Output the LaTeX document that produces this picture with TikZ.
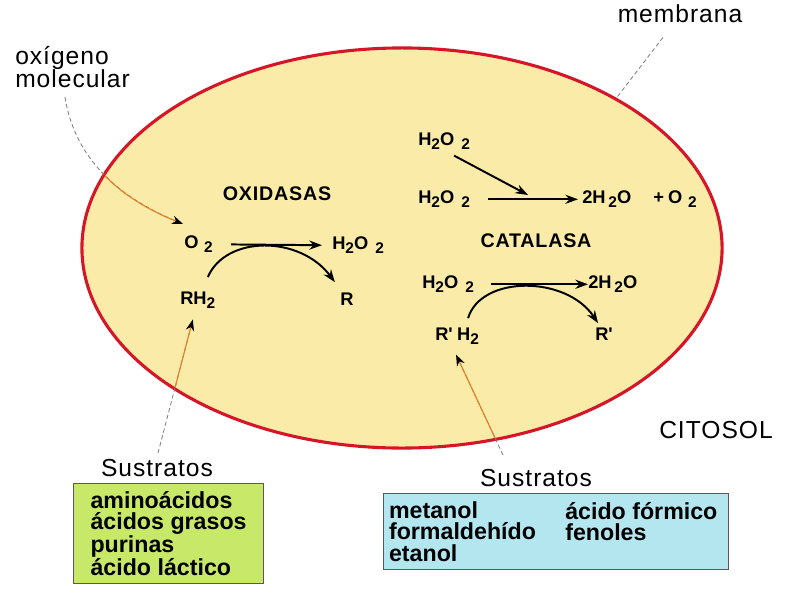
\documentclass[tikz,border=0pt]{standalone}
\usepackage{fontspec}
\setmainfont{Liberation Sans}
\usetikzlibrary{arrows.meta,calc,shapes.geometric}

\definecolor{cellfill}{RGB}{250,236,168}
\definecolor{cellred}{RGB}{214,22,40}
\definecolor{leadorange}{RGB}{228,128,40}
\definecolor{limebox}{RGB}{200,232,105}
\definecolor{cyanbox}{RGB}{180,230,240}

\newcommand{\subn}[1]{\raisebox{-0.45ex}{\fontsize{11}{11}\selectfont #1}}

\tikzset{
  tag/.style={font=\fontsize{17.5}{16.5}\selectfont\addfontfeature{LetterSpace=4}, inner sep=0pt},
  enzyme/.style={font=\bfseries\fontsize{14}{14}\selectfont\addfontfeature{LetterSpace=4}, inner sep=0pt},
  formula/.style={font=\bfseries\fontsize{13}{13}\selectfont, inner sep=0pt, anchor=base west},
  rxn/.style={line width=1.4pt, -{Stealth[length=9pt,width=6.5pt]}},
  leader/.style={gray, densely dashed, line width=0.6pt},
  inside/.style={leadorange, line width=0.8pt},
  boxtext/.style={font=\bfseries\fontsize{16.5}{15.3}\selectfont, align=left, inner sep=0pt},
  listbox/.style={boxtext, draw=black!65, line width=0.8pt, anchor=north west}
}

\begin{document}
\begin{tikzpicture}[x=0.025cm,y=-0.025cm]
\useasboundingbox (0,0) rectangle (800,598);

% la celula
\node[ellipse, draw=cellred, line width=2.2pt, fill=cellfill, minimum width=16cm, minimum height=10cm, inner sep=0pt] (cell) at (402,248) {};

% rotulos
\node[tag, align=left, anchor=north west] (oxi) at (15,46) {oxígeno\\molecular};
\node[tag] (memb) at (680,14) {membrana};
\node[tag] (cito) at (716,430) {CITOSOL};
\node[tag] (sust1) at (157,468) {Sustratos};
\node[tag] (sust2) at (536,478) {Sustratos};

% enzimas
\node[enzyme] (oxid) at (277,194) {OXIDASAS};
\node[enzyme] (cata) at (536,241) {CATALASA};

% oxidasas
\node[formula] (o2) at (184,248) {O\hspace{4pt}\subn{2}};
\node[formula] (hoo1) at (332,249) {H\subn{2}O\hspace{5pt}\subn{2}};
\node[formula] (rh2) at (180,304) {RH\subn{2}};
\node[formula] (r1) at (340,305) {R};
\draw[rxn, shorten <=0.45cm, shorten >=0.25cm] (o2.mid east) -- (hoo1.mid west);
\draw[rxn] ($(rh2.north)+(10,-14)$) .. controls +(18,-42) and +(-35,-47) .. ($(r1.north)+(-12,-10)$);

% catalasa
\node[formula] (hoo2) at (418,145) {H\subn{2}O\hspace{5pt}\subn{2}};
\node[formula] (hoo3) at (418,203) {H\subn{2}O\hspace{5pt}\subn{2}};
\node[formula] (wat1) at (582,203) {2H\hspace{2pt}\subn{2}O};
\node[formula] (oxy) at (653,203) {+\hspace{3pt}O\hspace{4pt}\subn{2}};
\coordinate (meet) at (528,195);
\draw[rxn, shorten <=0.45cm, shorten >=0.1cm] (hoo3.mid east) -- (wat1.mid west);
\draw[rxn] ($(hoo2.south)+(10,6)$) -- (meet);

\node[formula] (hoo4) at (422,288) {H\subn{2}O\hspace{5pt}\subn{2}};
\node[formula] (wat2) at (588,288) {2H\hspace{2pt}\subn{2}O};
\node[formula] (rph2) at (435,340) {R\textquotesingle\hspace{3pt}H\subn{2}};
\node[formula] (rp) at (595,340) {R\textquotesingle};
\draw[rxn, shorten <=0.42cm] (hoo4.mid east) -- (wat2.mid west);
\draw[rxn] ($(rph2.north)+(11,-9)$) .. controls +(13,-43) and +(-32,-48) .. ($(rp.north)+(-6,-4)$);

% lineas guia
\draw[leader] ($(memb.south)+(-17,14)$) -- (cell.35);
\draw[leader] ($(oxi.south west)+(50,9)$) .. controls +(12,75) and +(-45,-18) .. ($(o2.north west)+(-1,-11)$);
\draw[leader] ($(sust1.north)+(1,-6)$) -- ($(rh2.south)+(-5,11)$);
\draw[leader] ($(sust2.north)+(-33,-14)$) -- ($(rph2.south)+(-1,10)$);
\begin{scope}
  \clip (402,248) ellipse [x radius=7.96cm, y radius=4.96cm];
  \draw[inside, -{Stealth[length=8pt,width=6pt,color=black]}] ($(oxi.south west)+(50,9)$) .. controls +(12,75) and +(-45,-18) .. ($(o2.north west)+(-1,-11)$);
  \draw[inside, -{Stealth[length=8pt,width=6pt,color=black]}] ($(sust1.north)+(1,-6)$) -- ($(rh2.south)+(-5,11)$);
  \draw[inside, -{Stealth[length=8pt,width=6pt,color=black]}] ($(sust2.north)+(-33,-14)$) -- ($(rph2.south)+(-1,10)$);
\end{scope}

% sustratos
\node[listbox, fill=limebox, minimum width=4.75cm, minimum height=2.5cm] (list1) at (73,483) {aminoácidos\\ácidos grasos\\purinas\\ácido láctico};
\node[listbox, fill=cyanbox, minimum width=8.625cm, minimum height=1.9cm, text width=8.35cm, inner xsep=0.125cm] (list2) at (383,493) {metanol\\formaldehído\\etanol};
\node[boxtext, anchor=north west] (list2b) at (565,502) {ácido fórmico\\fenoles};

\end{tikzpicture}
\end{document}
